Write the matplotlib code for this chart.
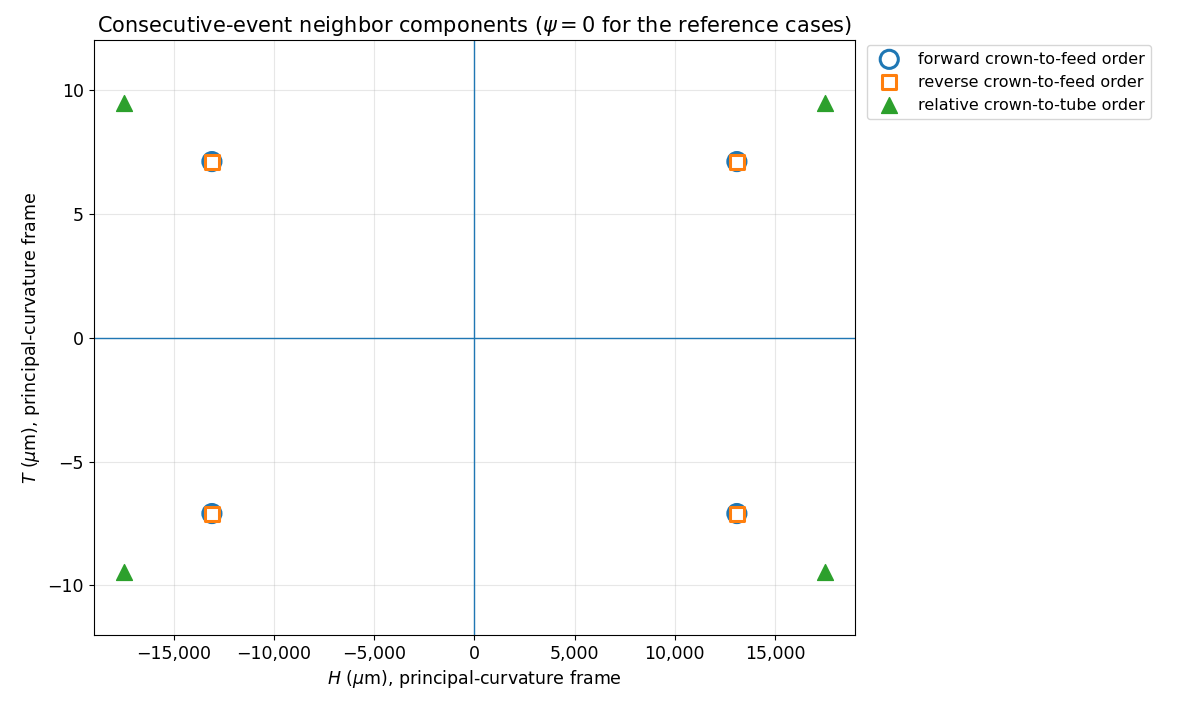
import matplotlib.pyplot as plt
from matplotlib.ticker import FuncFormatter

# neighbor components (H in um, T in um)
forward = {'H': [13100, -13100, 13100, -13100], 'T': [7.1, 7.1, -7.1, -7.1]}
reverse = {'H': [13100, -13100, 13100, -13100], 'T': [7.1, 7.1, -7.1, -7.1]}
relative = {'H': [17500, -17500, 17500, -17500], 'T': [9.45, 9.45, -9.45, -9.45]}

fig = plt.figure(figsize=(11.86, 7.04), dpi=100)
ax = fig.add_axes([0.079, 0.098, 0.642, 0.845])

ax.scatter(forward['H'], forward['T'], s=170, facecolors='none', edgecolors='#1f77b4',
           linewidths=2.2, label='forward crown-to-feed order', zorder=3)
ax.scatter(reverse['H'], reverse['T'], s=90, marker='s', facecolors='white', edgecolors='#ff7f0e',
           linewidths=2.2, label='reverse crown-to-feed order', zorder=4)
ax.scatter(relative['H'], relative['T'], s=130, marker='^', color='#2ca02c',
           label='relative crown-to-tube order', zorder=3)

ax.axhline(0, color='#1f77b4', linewidth=1)
ax.axvline(0, color='#1f77b4', linewidth=1)
ax.grid(True, alpha=0.3)
ax.set_xlim(-19000, 19000)
ax.set_ylim(-12, 12)
ax.xaxis.set_major_formatter(FuncFormatter(lambda v, p: f'{v:,.0f}'.replace('-', '\u2212')))
ax.tick_params(labelsize=12.5)

ax.set_xlabel(r'$H$ ($\mu$m), principal-curvature frame', fontsize=12.5)
ax.set_ylabel(r'$T$ ($\mu$m), principal-curvature frame', fontsize=12.5)
ax.set_title(r'Consecutive-event neighbor components ($\psi = 0$ for the reference cases)', fontsize=15)
ax.legend(loc='upper left', bbox_to_anchor=(1.005, 1.005), fontsize=11.5)

fig.savefig('out.png')
